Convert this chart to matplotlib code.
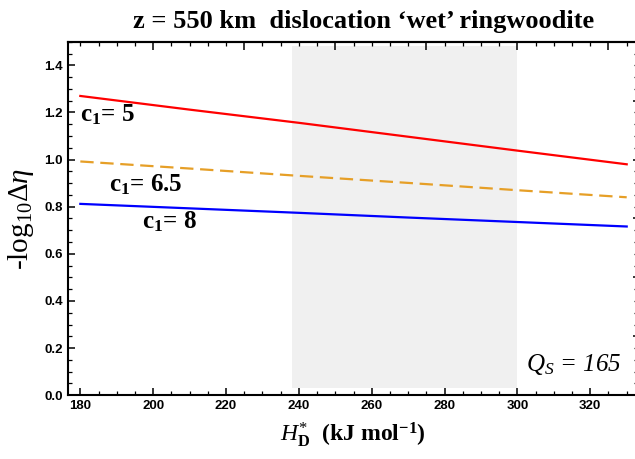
import numpy as np
import matplotlib.pyplot as plt
from matplotlib.ticker import MultipleLocator

plt.rcParams['font.family'] = ['Liberation Serif', 'DejaVu Serif']
plt.rcParams['mathtext.fontset'] = 'custom'
plt.rcParams['mathtext.rm'] = 'Liberation Serif'
plt.rcParams['mathtext.it'] = 'Liberation Serif:italic'
plt.rcParams['mathtext.bf'] = 'Liberation Serif:bold'

# activation enthalpy H*_D (kJ/mol)
H = [180, 210, 240, 270, 300, 330]

# -log10(delta eta) for each c1
c1_5 = [1.270, 1.212, 1.156, 1.097, 1.038, 0.980]
c1_65 = [0.992, 0.962, 0.931, 0.901, 0.870, 0.840]
c1_8 = [0.812, 0.793, 0.774, 0.754, 0.735, 0.716]

# shaded H range and its vertical extent
shade_x = [238, 300]
shade_y = [0.03, 1.48]

fig = plt.figure(figsize=(6.35, 4.59), dpi=100)
ax = fig.add_axes([0.107, 0.139, 0.896, 0.77])

ax.fill_between(shade_x, shade_y[0], shade_y[1], color='#f0f0f0', lw=0, zorder=0)

ax.plot(H, c1_5, color='#ff0000', lw=1.6)
ax.plot(H, c1_65, color='#e69f27', lw=1.6, dashes=(6, 3))
ax.plot(H, c1_8, color='#0000ff', lw=1.6)

ax.text(180, 1.19, r'$\mathbf{c_1}$= 5', fontsize=18, fontweight='bold', va='center')
ax.text(188, 0.895, r'$\mathbf{c_1}$= 6.5', fontsize=18, fontweight='bold', va='center')
ax.text(197, 0.738, r'$\mathbf{c_1}$= 8', fontsize=18, fontweight='bold', va='center')
ax.text(328.6, 0.13, r'$Q_S$ = 165', fontsize=18, fontstyle='italic', ha='right', va='center')

ax.set_xlim(176.6, 332.8)
ax.set_ylim(0, 1.5)

ax.xaxis.set_major_locator(MultipleLocator(20))
ax.xaxis.set_minor_locator(MultipleLocator(5))
ax.yaxis.set_minor_locator(MultipleLocator(0.05))
ax.tick_params(which='both', direction='in', top=False, right=False)
ax.tick_params(which='major', length=5, width=1.1)
ax.tick_params(which='minor', length=3, width=0.9)
ax.set_yticks(np.arange(0, 1.41, 0.2))
ax.set_yticklabels(['%.1f' % v for v in np.arange(0, 1.41, 0.2)])
for lab in ax.get_xticklabels() + ax.get_yticklabels():
    lab.set_fontfamily('Liberation Sans')
    lab.set_fontweight('bold')
    lab.set_fontsize(9.5)

top = ax.secondary_xaxis('top')
top.xaxis.set_major_locator(MultipleLocator(25))
top.xaxis.set_minor_locator(MultipleLocator(5))
top.tick_params(which='both', direction='in', labeltop=False)
top.tick_params(which='major', length=6, width=1.1)
top.tick_params(which='minor', length=3, width=0.9)

right = ax.secondary_yaxis('right')
right.yaxis.set_major_locator(MultipleLocator(0.25))
right.yaxis.set_minor_locator(MultipleLocator(0.05))
right.tick_params(which='both', direction='in', labelright=False)
right.tick_params(which='major', length=3, width=1.1)
right.tick_params(which='minor', length=2, width=0.9)

for sp in ax.spines.values():
    sp.set_linewidth(1.5)
top.spines['top'].set_linewidth(1.5)

ax.set_xlabel(r'$\mathit{H}^{*}_{\mathbf{D}}$  (kJ mol$^{\mathbf{-1}}$)', fontsize=17,
              fontweight='bold', labelpad=6)
ax.set_ylabel(r'-log$_{10}\Delta\eta$', fontsize=21, labelpad=6)
ax.set_title('z = 550 km  dislocation \u2018wet\u2019 ringwoodite', fontsize=19,
             fontweight='bold', pad=10, x=0.52)

fig.savefig('out.png', dpi=100)
